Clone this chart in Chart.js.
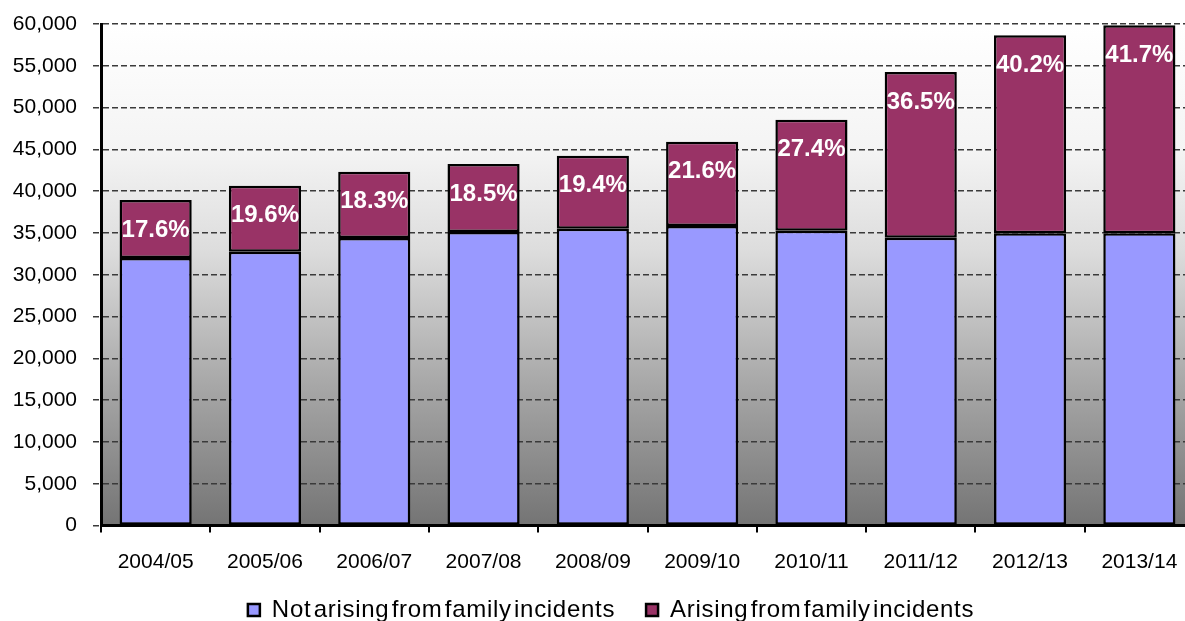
<!DOCTYPE html>
<html>
<head>
<meta charset="utf-8">
<script src="https://cdn.jsdelivr.net/npm/chart.js@4/dist/chart.umd.min.js"></script>
<style>
html,body{margin:0;padding:0;background:#fff;overflow:hidden;}
#wrap{position:relative;width:1195px;height:621px;}
</style>
</head>
<body>
<div id="wrap"><canvas id="c"></canvas></div>
<script>
const categories = ['2004/05','2005/06','2006/07','2007/08','2008/09','2009/10','2010/11','2011/12','2012/13','2013/14'];
const notArising = [32000, 32760, 34400, 35120, 35510, 35830, 35270, 34430, 34960, 34960];
const arising = [6950, 7900, 7930, 8130, 8730, 10090, 13280, 19830, 23690, 24890];
const percentLabels = ['17.6%','19.6%','18.3%','18.5%','19.4%','21.6%','27.4%','36.5%','40.2%','41.7%'];
const seriesNames = ['Not arising from family incidents', 'Arising from family incidents'];

// legend text spacing like the original (wide letters, squeezed word gaps)
const LP = Chart.Legend._element.prototype;
['fit', 'draw'].forEach(fn => {
  const orig = LP[fn];
  LP[fn] = function (...args) {
    const c = this.ctx;
    const pl = c.letterSpacing, pw = c.wordSpacing;
    c.letterSpacing = '0.7px';
    c.wordSpacing = '-5px';
    try { return orig.apply(this, args); } finally { c.letterSpacing = pl; c.wordSpacing = pw; }
  };
});

const gradientBg = {
  id: 'gradientBg',
  beforeDraw(chart) {
    const {ctx, chartArea: a} = chart;
    const g = ctx.createLinearGradient(0, a.top, 0, a.bottom);
    g.addColorStop(0, '#ffffff');
    g.addColorStop(0.25, '#f4f4f4');
    g.addColorStop(0.45, '#dddddd');
    g.addColorStop(0.7, '#ababab');
    g.addColorStop(1, '#747474');
    ctx.save();
    ctx.fillStyle = g;
    ctx.fillRect(a.left, a.top, a.right - a.left, a.bottom - a.top);
    ctx.restore();
  }
};

const pctLabels = {
  id: 'pctLabels',
  afterDatasetsDraw(chart) {
    const {ctx} = chart;
    const meta = chart.getDatasetMeta(1);
    ctx.save();
    ctx.font = 'bold 24px "Liberation Sans", Arial, sans-serif';
    ctx.fillStyle = '#ffffff';
    ctx.textAlign = 'center';
    ctx.textBaseline = 'middle';
    meta.data.forEach((el, i) => {
      ctx.fillText(percentLabels[i], el.x, el.y + 30);
    });
    ctx.restore();
  }
};

const layoutTweak = {
  id: 'layoutTweak',
  beforeDraw(chart) {
    const lg = chart.legend;
    if (lg) { lg.left = 0; lg.right = 1222; }
    // let the category labels use the room that overlaps the legend band
    const xs = chart.scales.x;
    if (xs) { xs.bottom = xs.top + 60; }
  }
};

new Chart(document.getElementById('c'), {
  type: 'bar',
  data: {
    labels: categories,
    datasets: [
      {label: seriesNames[0], data: notArising, backgroundColor: '#9999FF', borderColor: '#000', borderWidth: 2.5, borderSkipped: false},
      {label: seriesNames[1], data: arising, backgroundColor: '#993366', borderColor: '#000', borderWidth: 2.5, borderSkipped: false}
    ]
  },
  options: {
    responsive: true,
    maintainAspectRatio: false,
    animation: false,
    datasets: {bar: {barPercentage: 0.66, categoryPercentage: 1}},
    layout: {padding: {top: 24, right: 1, left: 0, bottom: -11}},
    plugins: {
      tooltip: {enabled: false},
      legend: {
        position: 'bottom',
        align: 'center',
        labels: {
          boxWidth: 12,
          boxHeight: 12,
          padding: 31,
          color: '#000',
          font: {family: '"Liberation Sans", Arial, sans-serif', size: 24}
        }
      }
    },
    scales: {
      x: {
        stacked: true,
        afterFit(scale) { scale.height = 41.5; scale.paddingLeft = 0; scale.paddingRight = 0; },
        border: {display: true, color: '#000', width: 3},
        grid: {display: true, drawOnChartArea: false, drawTicks: true, tickLength: 7, color: '#000', lineWidth: 2, offset: true},
        ticks: {color: '#000', padding: 17, font: {family: '"Liberation Sans", Arial, sans-serif', size: 21}, maxRotation: 0}
      },
      y: {
        stacked: true,
        min: 0,
        max: 60000,
        afterFit(scale) { scale.width = 101; scale.paddingTop = 0; scale.paddingBottom = 0; },
        border: {display: true, color: '#000', width: 3, dash: [6, 3]},
        grid: {color: '#3a3a3a', lineWidth: 1.5, tickLength: 8, tickColor: '#3a3a3a', tickBorderDash: [6, 3]},
        ticks: {
          stepSize: 5000,
          color: '#000',
          padding: 16,
          font: {family: '"Liberation Sans", Arial, sans-serif', size: 21},
          callback: v => v.toLocaleString('en-US')
        }
      }
    }
  },
  plugins: [gradientBg, pctLabels, layoutTweak]
});
</script>
</body>
</html>
